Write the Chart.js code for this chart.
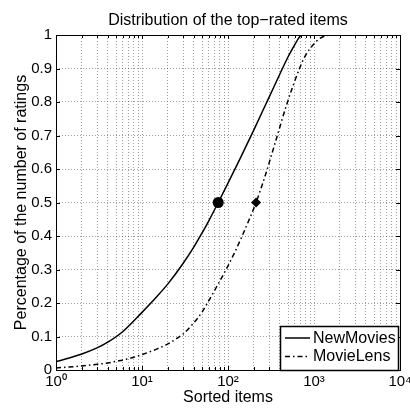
<!DOCTYPE html>
<html><head><meta charset="utf-8">
<script src="https://cdn.jsdelivr.net/npm/chart.js@4/dist/chart.umd.min.js"></script>
<style>html,body{margin:0;padding:0;background:#fff}canvas{display:block}</style>
</head><body>
<canvas id="c" width="410" height="410"></canvas>
<script>
const chartTitle = 'Distribution of the top\u2212rated items';
const xAxisTitle = 'Sorted items';
const yAxisTitle = 'Percentage of the number of ratings';
const seriesNames = ['NewMovies', 'MovieLens'];
const newMoviesX = [1, 2, 3, 4, 6, 10, 15, 20, 30, 40, 50, 60, 77, 100, 140, 200, 300, 400, 500, 600, 660, 700, 740];
const newMoviesY = [0.025, 0.048, 0.066, 0.083, 0.115, 0.172, 0.220, 0.257, 0.318, 0.367, 0.409, 0.446, 0.500, 0.558, 0.634, 0.717, 0.814, 0.883, 0.935, 0.972, 0.990, 0.998, 1.0];
const movieLensX = [1, 2, 3, 4, 5, 6, 8, 10, 15, 20, 25, 30, 38, 50, 57.4, 70, 95, 115, 142, 175, 212, 270, 357, 485, 678, 800, 973, 1175, 1400, 1535, 1700];
const movieLensY = [0.006, 0.012, 0.017, 0.021, 0.026, 0.030, 0.038, 0.046, 0.063, 0.078, 0.093, 0.107, 0.134, 0.173, 0.199, 0.238, 0.300, 0.342, 0.393, 0.447, 0.500, 0.579, 0.682, 0.795, 0.900, 0.940, 0.970, 0.990, 0.998, 1.0, 1.0];
const halfPointX = [77, 212];
const halfPointY = [0.5, 0.5];
const xDecades = [1, 10, 100, 1000, 10000];
const xTickLabels = ['10\u2070', '10\u00b9', '10\u00b2', '10\u00b3', '10\u2074'];
const yTicks = [0, 0.1, 0.2, 0.3, 0.4, 0.5, 0.6, 0.7, 0.8, 0.9, 1];
const yTickLabels = ['0', '0.1', '0.2', '0.3', '0.4', '0.5', '0.6', '0.7', '0.8', '0.9', '1'];

const FONT = '"Liberation Sans", Arial, Helvetica, sans-serif';
const toPts = (xs, ys) => xs.map((x, i) => ({x: x, y: ys[i]}));
const dashDot = [5, 3, 1.5, 3];

const xTickValues = [];
for (let d = 0; d < xDecades.length - 1; d++) {
  for (let m = 1; m < 10; m++) xTickValues.push(xDecades[d] * m);
}
xTickValues.push(xDecades[xDecades.length - 1]);

const framePlugin = {
  id: 'frame',
  afterDraw(chart) {
    const ctx = chart.ctx;
    const a = chart.chartArea;
    const xs = chart.scales.x, ys = chart.scales.y;
    ctx.save();
    ctx.strokeStyle = '#000';
    ctx.fillStyle = '#000';
    // title centred over the plot
    ctx.font = '16px ' + FONT;
    ctx.textAlign = 'center';
    ctx.textBaseline = 'alphabetic';
    ctx.fillText(chartTitle, (a.left + a.right) / 2, 25);
    ctx.textAlign = 'left';
    ctx.lineWidth = 1;
    // inward ticks
    ctx.beginPath();
    xTickValues.forEach(v => {
      const px = Math.round(xs.getPixelForValue(v)) + 0.5;
      const len = xDecades.includes(v) ? 4 : 3;
      ctx.moveTo(px, a.bottom); ctx.lineTo(px, a.bottom - len);
      ctx.moveTo(px, a.top); ctx.lineTo(px, a.top + len);
    });
    yTicks.forEach(v => {
      const py = Math.round(ys.getPixelForValue(v)) + 0.5;
      ctx.moveTo(a.left, py); ctx.lineTo(a.left + 4, py);
      ctx.moveTo(a.right, py); ctx.lineTo(a.right - 4, py);
    });
    ctx.stroke();
    // legend
    const lx = 280, ly = 326, lw = 118, lh = a.bottom - 326;
    ctx.fillStyle = '#fff';
    ctx.fillRect(lx, ly, lw, lh);
    ctx.lineWidth = 1.5;
    ctx.strokeRect(lx + 0.5, ly + 0.5, lw, lh);
    ctx.font = '16px ' + FONT;
    ctx.textBaseline = 'middle';
    ctx.fillStyle = '#000';
    const rows = [338, 356.5];
    [0, 1].forEach(i => {
      const ds = chart.data.datasets[i];
      ctx.beginPath();
      ctx.lineWidth = ds.borderWidth;
      ctx.setLineDash(ds.borderDash || []);
      ctx.moveTo(285, rows[i]); ctx.lineTo(310, rows[i]);
      ctx.stroke();
      ctx.setLineDash([]);
      ctx.fillText(ds.label, 313, rows[i] + 0.5);
    });
    // frame
    ctx.lineWidth = 1;
    ctx.strokeRect(Math.round(a.left) + 0.5, Math.round(a.top) + 0.5, Math.round(a.right - a.left), Math.round(a.bottom - a.top));
    ctx.restore();
  }
};

new Chart(document.getElementById('c'), {
  type: 'line',
  data: {
    datasets: [
      {label: seriesNames[0], data: toPts(newMoviesX, newMoviesY), borderColor: '#000', borderWidth: 1.5, pointRadius: 0, fill: false, cubicInterpolationMode: 'monotone'},
      {label: seriesNames[1], data: toPts(movieLensX, movieLensY), borderColor: '#000', borderWidth: 1.5, borderDash: dashDot, pointRadius: 0, fill: false, cubicInterpolationMode: 'monotone'},
      {label: 'half1', data: [{x: halfPointX[0], y: halfPointY[0]}], showLine: false, pointStyle: 'circle', pointRadius: 5.5, backgroundColor: '#000', borderColor: '#000', borderWidth: 0},
      {label: 'half2', data: [{x: halfPointX[1], y: halfPointY[1]}], showLine: false, pointStyle: 'rectRot', pointRadius: 5, backgroundColor: '#000', borderColor: '#000', borderWidth: 0}
    ]
  },
  options: {
    responsive: false,
    animation: false,
    events: [],
    layout: {padding: {left: 0, right: 10, top: 35, bottom: 0}},
    plugins: {
      legend: {display: false},
      tooltip: {enabled: false},
      title: {display: false}
    },
    scales: {
      x: {
        type: 'logarithmic', min: 1, max: 10000,
        afterBuildTicks: s => { s.ticks = xTickValues.map(v => ({value: v})); },
        afterFit: s => { s.height = 40; s.paddingLeft = 0; s.paddingRight = 0; },
        ticks: {
          autoSkip: false, maxRotation: 0, minRotation: 0, padding: 3, color: '#000',
          font: {family: FONT, size: 15},
          callback: v => { const i = xDecades.indexOf(v); return i >= 0 ? xTickLabels[i] : ''; }
        },
        grid: {color: 'rgba(0,0,0,0.38)', drawTicks: false, lineWidth: 1},
        border: {display: false, dash: [1, 2]},
        title: {display: true, text: xAxisTitle, color: '#000', font: {family: FONT, size: 16}, padding: {top: 0, bottom: 3}}
      },
      y: {
        type: 'linear', min: 0, max: 1,
        afterBuildTicks: s => { s.ticks = yTicks.map(v => ({value: v})); },
        afterFit: s => { s.width = 56; s.paddingTop = 0; s.paddingBottom = 0; },
        ticks: {
          padding: 4, color: '#000', font: {family: FONT, size: 15},
          callback: (v, i) => yTickLabels[i]
        },
        grid: {color: 'rgba(0,0,0,0.38)', drawTicks: false, lineWidth: 1},
        border: {display: false, dash: [1, 2]},
        title: {display: true, text: yAxisTitle, color: '#000', font: {family: FONT, size: 16}, padding: {top: 12, bottom: 0}}
      }
    }
  },
  plugins: [framePlugin]
});
</script>
</body></html>
